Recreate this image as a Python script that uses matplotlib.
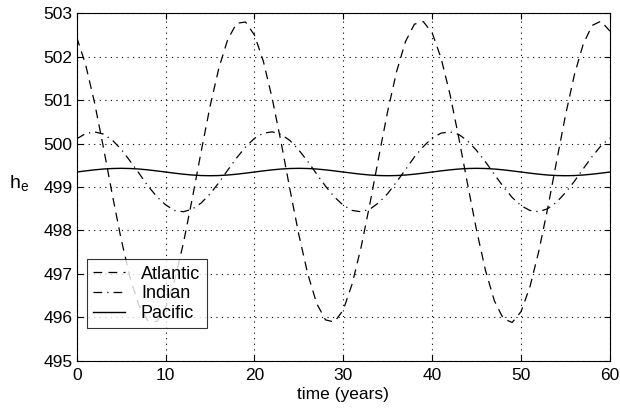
import numpy as np
import matplotlib.pyplot as plt

plt.rcParams['font.family'] = ['Liberation Sans', 'DejaVu Sans']

# ─────────────────────────────────────────────
# Data (yearly samples)
# ─────────────────────────────────────────────
years = list(range(0, 61))

atlantic = [
    502.45, 501.82, 500.95, 499.92, 498.83, 497.80, 496.92, 496.27, 495.92, 495.90,
    496.22, 496.84, 497.70, 498.73, 499.81, 500.85, 501.74, 502.40, 502.77, 502.80,
    502.50, 501.90, 501.04, 500.03, 498.94, 497.90, 497.00, 496.32, 495.94, 495.89,
    496.17, 496.77, 497.61, 498.62, 499.70, 500.75, 501.66, 502.35, 502.75, 502.81,
    502.55, 501.97, 501.14, 500.13, 499.05, 498.00, 497.08, 496.38, 495.97, 495.88,
    496.13, 496.70, 497.52, 498.51, 499.59, 500.65, 501.58, 502.29, 502.72, 502.82,
    502.59,
]

indian = [
    500.11, 500.23, 500.27, 500.22, 500.08, 499.87, 499.60, 499.32, 499.03, 498.78,
    498.59, 498.46, 498.43, 498.49, 498.63, 498.84, 499.10, 499.39, 499.67, 499.92,
    500.12, 500.24, 500.27, 500.21, 500.07, 499.85, 499.59, 499.30, 499.02, 498.77,
    498.58, 498.46, 498.43, 498.49, 498.64, 498.85, 499.12, 499.40, 499.69, 499.93,
    500.13, 500.24, 500.27, 500.21, 500.06, 499.84, 499.58, 499.29, 499.01, 498.76,
    498.57, 498.46, 498.43, 498.50, 498.65, 498.87, 499.13, 499.42, 499.70, 499.95,
    500.13,
]

pacific = [
    499.345, 499.371, 499.395, 499.414, 499.426, 499.430, 499.426, 499.414, 499.395, 499.371,
    499.345, 499.319, 499.295, 499.276, 499.264, 499.260, 499.264, 499.276, 499.295, 499.319,
    499.345, 499.371, 499.395, 499.414, 499.426, 499.430, 499.426, 499.414, 499.395, 499.371,
    499.345, 499.319, 499.295, 499.276, 499.264, 499.260, 499.264, 499.276, 499.295, 499.319,
    499.345, 499.371, 499.395, 499.414, 499.426, 499.430, 499.426, 499.414, 499.395, 499.371,
    499.345, 499.319, 499.295, 499.276, 499.264, 499.260, 499.264, 499.276, 499.295, 499.319,
    499.345,
]

x_ticks = [0, 10, 20, 30, 40, 50, 60]
y_ticks = [495, 496, 497, 498, 499, 500, 501, 502, 503]

# ─────────────────────────────────────────────
# Plot
# ─────────────────────────────────────────────
fig = plt.figure(figsize=(6.2, 4.11), dpi=100)
ax = fig.add_axes([0.1237, 0.1224, 0.8600, 0.8452])

ax.plot(years, atlantic, color='k', lw=0.9, ls=(0, (7, 5)), label='Atlantic')
ax.plot(years, indian, color='k', lw=0.9, ls=(0, (7, 4, 1, 4)), label='Indian')
ax.plot(years, pacific, color='k', lw=1.0, ls='-', label='Pacific')

ax.set_xlim(0, 60)
ax.set_ylim(495, 503)
ax.set_xticks(x_ticks)
ax.set_yticks(y_ticks)
ax.grid(True, color='k', ls=(0, (1, 4)), lw=0.8)
ax.tick_params(direction='in', length=4, top=True, right=True, labelsize=12.5)
ax.tick_params(axis='x', pad=5)
ax.tick_params(axis='y', pad=3)
for s in ax.spines.values():
    s.set_linewidth(0.8)

ax.set_xlabel('time (years)', fontsize=12.5, labelpad=3)
ax.set_ylabel(r'h$_\mathregular{e}$', fontsize=14, rotation=0, ha='right', va='center')
ax.yaxis.set_label_coords(-0.089, 0.51)

leg = ax.legend(loc='lower left', bbox_to_anchor=(0.019, 0.093), borderaxespad=0,
                fontsize=13, frameon=True, fancybox=False, handlelength=1.75,
                handletextpad=0.9, labelspacing=0.15, borderpad=0.35)
leg.get_frame().set_edgecolor('k')
leg.get_frame().set_linewidth(0.8)

fig.savefig('out.png', dpi=100)
